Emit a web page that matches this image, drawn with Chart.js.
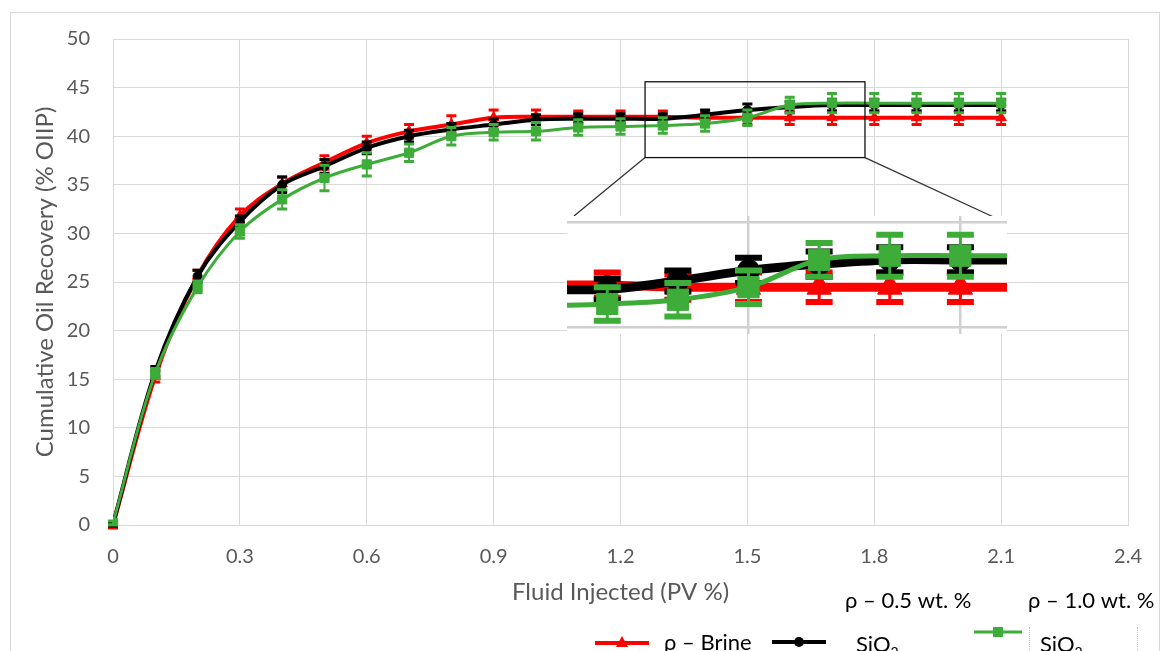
<!DOCTYPE html>
<html>
<head>
<meta charset="utf-8">
<script src="https://cdn.jsdelivr.net/npm/chart.js@4.4.0/dist/chart.umd.min.js"></script>
<style>
  body { margin: 0; background: #fff; width: 1162px; height: 651px; overflow: hidden; position: relative; font-family: Lato, "Open Sans", sans-serif; }
  #frame { position: absolute; left: 10px; top: 12px; width: 1148px; height: 700px; border: 1px solid #d9d9d9; }
  #main { position: absolute; left: 0; top: 0; }
  #inset { position: absolute; left: 567px; top: 216px; background: #fff; }
  .leg { position: absolute; font-size: 22px; line-height: 22px; color: #000; white-space: nowrap; }
  .leg sub { font-size: 14px; line-height: 0; }
  #dots { position: absolute; left: 1029px; top: 627px; width: 107px; height: 40px; border-left: 1px dotted #c8c8c8; border-right: 1px dotted #c8c8c8; }
</style>
</head>
<body>
<div id="frame"></div>
<canvas id="main" width="1162" height="651"></canvas>
<canvas id="inset" width="440" height="118"></canvas>
<div id="dots"></div>
<div class="leg" style="left:664px; top:631px;">ρ – Brine</div>
<div class="leg" style="left:845px; top:589px;">ρ – 0.5 wt. %</div>
<div class="leg" style="left:856px; top:633px;">SiO<sub>2</sub></div>
<div class="leg" style="left:1028px; top:589px;">ρ – 1.0 wt. %</div>
<div class="leg" style="left:1040px; top:633px;">SiO<sub>2</sub></div>
<script>
// fluid injected (PV) for every measurement
const fluidInjected = [0, 0.1, 0.2, 0.3, 0.4, 0.5, 0.6, 0.7, 0.8, 0.9, 1.0, 1.1, 1.2, 1.3, 1.4, 1.5, 1.6, 1.7, 1.8, 1.9, 2.0, 2.1];

const brine    = [0, 15.3, 25.6, 31.8, 35.1, 37.3, 39.3, 40.5, 41.2, 41.9, 42.0, 42.0, 42.0, 42.0, 41.9, 41.9, 41.9, 41.9, 41.9, 41.9, 41.9, 41.9];
const brineErr = [0.3, 0.6, 0.6, 0.7, 0.7, 0.7, 0.7, 0.7, 0.9, 0.8, 0.7, 0.6, 0.6, 0.6, 0.6, 0.7, 0.7, 0.7, 0.7, 0.7, 0.7, 0.7];

const sio05    = [0.1, 15.8, 25.6, 31.2, 35.0, 36.9, 38.8, 40.0, 40.7, 41.2, 41.7, 41.8, 41.8, 41.8, 42.2, 42.7, 43.0, 43.2, 43.2, 43.2, 43.2, 43.2];
const sio05Err = [0.2, 0.5, 0.6, 0.6, 0.8, 0.7, 0.6, 0.6, 0.6, 0.6, 0.5, 0.5, 0.5, 0.5, 0.5, 0.6, 0.6, 0.6, 0.6, 0.6, 0.6, 0.6];

const sio10    = [0.2, 15.6, 24.5, 30.2, 33.5, 35.7, 37.1, 38.3, 40.0, 40.4, 40.5, 40.9, 41.0, 41.1, 41.3, 41.9, 43.2, 43.4, 43.4, 43.4, 43.4, 43.4];
const sio10Err = [0.2, 0.5, 0.6, 0.7, 1.0, 1.3, 1.2, 0.9, 0.9, 0.8, 0.9, 0.8, 0.8, 0.8, 0.8, 0.8, 0.8, 1.0, 1.0, 1.0, 1.0, 1.0];

const xTickValues = [0, 0.3, 0.6, 0.9, 1.2, 1.5, 1.8, 2.1, 2.4];
const yTickValues = [0, 5, 10, 15, 20, 25, 30, 35, 40, 45, 50];
const insetXTicks = [1.5, 1.8];
const insetYTicks = [40, 45];

const RED = "#ff0000";
const BLACK = "#000000";
const GREEN = "#3eac39";
const GRID = "#d9d9d9";
const TEXT = "#595959";

const insetBox = { left: 567, top: 216, width: 440, height: 118 };

function points(values) {
  return fluidInjected.map((x, i) => ({ x: x, y: values[i] }));
}

function makeSeries(big) {
  const list = [
    { label: "ρ – Brine", data: points(brine), errors: brineErr, borderColor: RED, borderWidth: big ? 9 : 4, pointStyle: "triangle", pointRadius: big ? 14 : 6, order: 2 },
    { label: "ρ – 0.5 wt. % SiO2", data: points(sio05), errors: sio05Err, borderColor: BLACK, borderWidth: big ? 9 : 4, pointStyle: "circle", pointRadius: big ? 11 : 4.5, order: 1 },
    { label: "ρ – 1.0 wt. % SiO2", data: points(sio10), errors: sio10Err, borderColor: GREEN, borderWidth: big ? 5 : 3, pointStyle: "rect", pointRadius: big ? 15 : 6.5, order: 0 },
  ];
  return list.map((ds) => Object.assign({
    backgroundColor: ds.borderColor,
    pointBackgroundColor: ds.borderColor,
    pointBorderColor: ds.borderColor,
    pointBorderWidth: 1,
    tension: 0.35,
    fill: false,
  }, ds));
}

// vertical error bars, drawn just under each series
const errorBars = {
  id: "errorBars",
  beforeDatasetDraw(chart, args, opts) {
    const ds = chart.data.datasets[args.index];
    if (!ds.errors) return;
    const ctx = chart.ctx;
    const x = chart.scales.x;
    const y = chart.scales.y;
    ctx.save();
    ctx.strokeStyle = ds.borderColor;
    ds.data.forEach((p, i) => {
      const e = ds.errors[i];
      const px = x.getPixelForValue(p.x);
      const top = y.getPixelForValue(p.y + e);
      const bot = y.getPixelForValue(p.y - e);
      ctx.lineWidth = opts.lineWidth;
      ctx.beginPath();
      ctx.moveTo(px, top);
      ctx.lineTo(px, bot);
      ctx.stroke();
      ctx.lineWidth = opts.capThickness;
      ctx.beginPath();
      ctx.moveTo(px - opts.capWidth / 2, top);
      ctx.lineTo(px + opts.capWidth / 2, top);
      ctx.moveTo(px - opts.capWidth / 2, bot);
      ctx.lineTo(px + opts.capWidth / 2, bot);
      ctx.stroke();
    });
    ctx.restore();
  },
};

// the black box round the zoomed part, with lines to the inset
const zoomFrame = {
  id: "zoomFrame",
  afterDraw(chart, args, opts) {
    const ctx = chart.ctx;
    const x = chart.scales.x;
    const y = chart.scales.y;
    const l = x.getPixelForValue(opts.xMin);
    const r = x.getPixelForValue(opts.xMax);
    const t = y.getPixelForValue(opts.yMax);
    const b = y.getPixelForValue(opts.yMin);
    ctx.save();
    ctx.strokeStyle = "#111";
    ctx.lineWidth = 1.3;
    ctx.strokeRect(l, t, r - l, b - t);
    ctx.strokeStyle = "#333";
    ctx.beginPath();
    ctx.moveTo(l, b);
    ctx.lineTo(insetBox.left + 7, insetBox.top);
    ctx.moveTo(r, b);
    ctx.lineTo(insetBox.left + insetBox.width - 7, insetBox.top + 4);
    ctx.stroke();
    ctx.restore();
  },
};

// legend line samples (text is html below the chart)
const legendSamples = {
  id: "legendSamples",
  afterDraw(chart, args, opts) {
    const ctx = chart.ctx;
    opts.items.forEach((it) => {
      const ds = chart.data.datasets[it.index];
      ctx.save();
      ctx.strokeStyle = ds.borderColor;
      ctx.fillStyle = ds.borderColor;
      ctx.lineWidth = ds.borderWidth;
      ctx.beginPath();
      ctx.moveTo(it.x0, it.y);
      ctx.lineTo(it.x1, it.y);
      ctx.stroke();
      const cx = (it.x0 + it.x1) / 2;
      ctx.beginPath();
      if (ds.pointStyle === "triangle") {
        ctx.moveTo(cx, it.y - 7);
        ctx.lineTo(cx + 6, it.y + 4);
        ctx.lineTo(cx - 6, it.y + 4);
        ctx.closePath();
      } else if (ds.pointStyle === "circle") {
        ctx.arc(cx, it.y, 5, 0, Math.PI * 2);
      } else {
        ctx.rect(cx - 5, it.y - 5, 10, 10);
      }
      ctx.fill();
      ctx.restore();
    });
  },
};

function setTicks(values) {
  return (scale) => {
    scale.ticks = values.map((v) => ({ value: v }));
  };
}

new Chart(document.getElementById("main"), {
  type: "line",
  data: { datasets: makeSeries(false) },
  options: {
    responsive: false,
    animation: false,
    devicePixelRatio: 1,
    events: [],
    layout: { autoPadding: false, padding: { top: 39, right: 31, left: 0, bottom: 0 } },
    plugins: {
      legend: { display: false },
      tooltip: { enabled: false },
      errorBars: { lineWidth: 2, capWidth: 10, capThickness: 3 },
      zoomFrame: { xMin: 1.258, xMax: 1.778, yMin: 37.8, yMax: 45.6 },
      legendSamples: {
        items: [
          { index: 0, x0: 595, x1: 649, y: 643 },
          { index: 1, x0: 772, x1: 826, y: 642 },
          { index: 2, x0: 974, x1: 1022, y: 632 },
        ],
      },
    },
    scales: {
      x: {
        type: "linear",
        min: 0,
        max: 2.4,
        afterBuildTicks: setTicks(xTickValues),
        afterFit: (s) => { s.height = 126; },
        grid: { color: GRID, drawTicks: false },
        border: { color: GRID },
        ticks: { color: TEXT, font: { family: "Lato", size: 20 }, padding: 20, callback: (v) => String(v) },
        title: { display: true, text: "Fluid Injected (PV %)", color: TEXT, font: { family: "Lato", size: 24 }, padding: { top: 0, bottom: 44 } },
      },
      y: {
        type: "linear",
        min: 0,
        max: 50,
        afterBuildTicks: setTicks(yTickValues),
        afterFit: (s) => { s.width = 113; },
        grid: { color: GRID, drawTicks: false },
        border: { color: GRID },
        ticks: { color: TEXT, font: { family: "Lato", size: 20 }, padding: 23, callback: (v) => String(v) },
        title: { display: true, text: "Cumulative Oil Recovery (% OIIP)", color: TEXT, font: { family: "Lato", size: 24 }, padding: { top: 31, bottom: 0 } },
      },
    },
  },
  plugins: [errorBars, zoomFrame, legendSamples],
});

// magnified part of the plateau
new Chart(document.getElementById("inset"), {
  type: "line",
  data: { datasets: makeSeries(true) },
  options: {
    responsive: false,
    animation: false,
    devicePixelRatio: 1,
    events: [],
    layout: { autoPadding: false, padding: 0 },
    plugins: {
      legend: { display: false },
      tooltip: { enabled: false },
      errorBars: { lineWidth: 3, capWidth: 27, capThickness: 6 },
    },
    scales: {
      x: {
        type: "linear",
        min: 1.243,
        max: 1.866,
        afterBuildTicks: setTicks(insetXTicks),
        afterFit: (s) => { s.height = 0; },
        grid: { color: "#d0d0d0", lineWidth: 2.5, drawTicks: false },
        border: { display: false },
        ticks: { display: false },
      },
      y: {
        type: "linear",
        min: 39.67,
        max: 45.29,
        afterBuildTicks: setTicks(insetYTicks),
        afterFit: (s) => { s.width = 0; },
        grid: { color: "#d0d0d0", lineWidth: 2.5, drawTicks: false },
        border: { display: false },
        ticks: { display: false },
      },
    },
  },
  plugins: [errorBars],
});
</script>
</body>
</html>
